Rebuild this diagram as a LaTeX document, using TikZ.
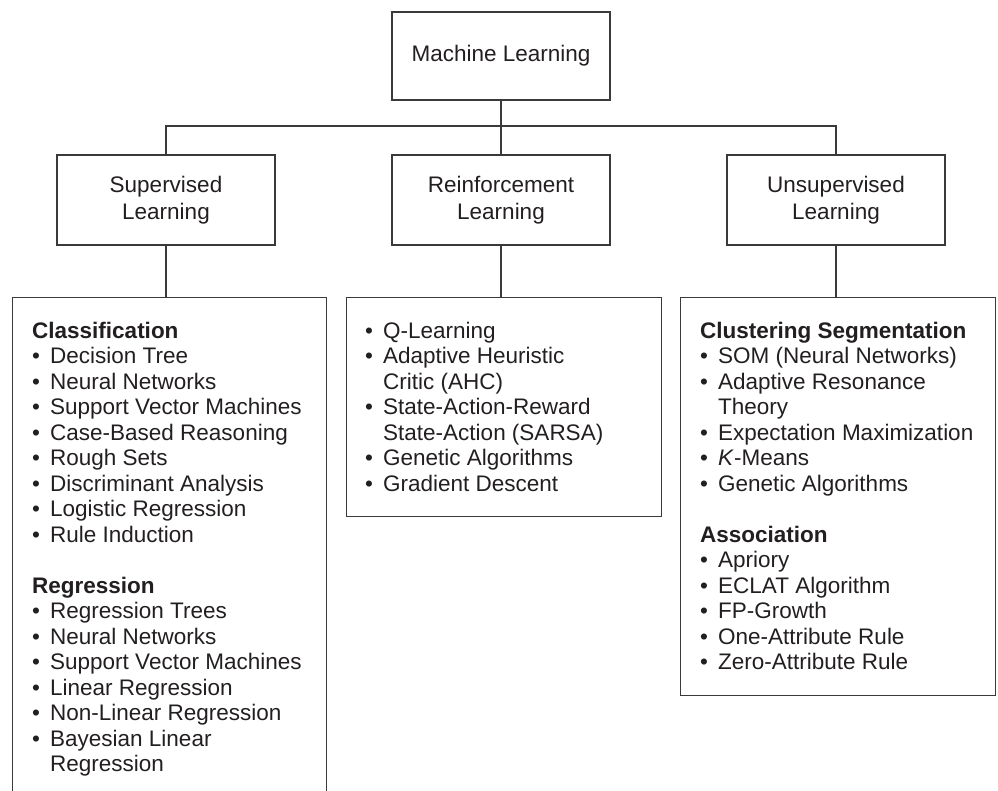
\documentclass[tikz,border=0pt]{standalone}
\usepackage{fontspec}
\setmainfont{Liberation Sans}
\definecolor{linec}{HTML}{3A3A3A}
\definecolor{textc}{HTML}{231F20}
\newcommand{\bul}{\makebox[18pt][l]{\textbullet}}
\newcommand{\ind}{\hspace*{18pt}}
\begin{document}
\begin{tikzpicture}[x=1pt,y=-1pt,
  box/.style={draw=linec, line width=1.3pt, rectangle, inner sep=0pt, text=textc,
    font=\fontsize{22.5}{27}\selectfont, align=center},
  toplevel/.style={box, minimum width=218pt, minimum height=88pt},
  midlevel/.style={box, minimum width=218pt, minimum height=90pt},
  listbox/.style={box, anchor=north west, minimum width=315pt},
  listtext/.style={anchor=north west, inner sep=0pt, text=textc,
    font=\fontsize{22.5}{25.5}\selectfont, align=left},
  conn/.style={draw=linec, line width=1.3pt}]
\useasboundingbox (0,0) rectangle (998,791);
\clip (0,0) rectangle (998,791);

\node[toplevel] (ml) at (501,56) {Machine Learning};
\node[midlevel] (sup) at (166,200) {Supervised\\Learning};
\node[midlevel] (rl) at (501,200) {Reinforcement\\Learning};
\node[midlevel] (unsup) at (836,200) {Unsupervised\\Learning};

\node[listbox, minimum width=314pt, minimum height=530pt] (lsup) at (12,297) {};
\node[listbox, minimum height=219pt] (lrl) at (346,297) {};
\node[listbox, minimum height=398pt] (lun) at (680,297) {};

\coordinate (bus) at (501,126);
\draw[conn] (sup.north) |- (bus) -| (unsup.north);
\draw[conn] (ml.south) -- (rl.north);
\draw[conn] (sup.south) -- (sup.south |- lsup.north);
\draw[conn] (rl.south) -- (rl.south |- lrl.north);
\draw[conn] (unsup.south) -- (unsup.south |- lun.north);

\node[listtext] (tsup) at (32,320.15) {\strut\textbf{Classification}\\
\bul Decision Tree\\
\bul Neural Networks\\
\bul Support Vector Machines\\
\bul Case-Based Reasoning\\
\bul Rough Sets\\
\bul Discriminant Analysis\\
\bul Logistic Regression\\
\bul Rule Induction\\[25.5pt]
\textbf{Regression}\\
\bul Regression Trees\\
\bul Neural Networks\\
\bul Support Vector Machines\\
\bul Linear Regression\\
\bul Non-Linear Regression\\
\bul Bayesian Linear\\
\ind Regression};

\node[listtext] (trl) at (365,320.15) {\strut\bul Q-Learning\\
\bul Adaptive Heuristic\\
\ind Critic (AHC)\\
\bul State-Action-Reward\\
\ind State-Action (SARSA)\\
\bul Genetic Algorithms\\
\bul Gradient Descent};

\node[listtext] (tun) at (700,320.15) {\strut\textbf{Clustering Segmentation}\\
\bul SOM (Neural Networks)\\
\bul Adaptive Resonance\\
\ind Theory\\
\bul Expectation Maximization\\
\bul \textit{K}-Means\\
\bul Genetic Algorithms\\[25.5pt]
\textbf{Association}\\
\bul Apriory\\
\bul ECLAT Algorithm\\
\bul FP-Growth\\
\bul One-Attribute Rule\\
\bul Zero-Attribute Rule};
\end{tikzpicture}
\end{document}
